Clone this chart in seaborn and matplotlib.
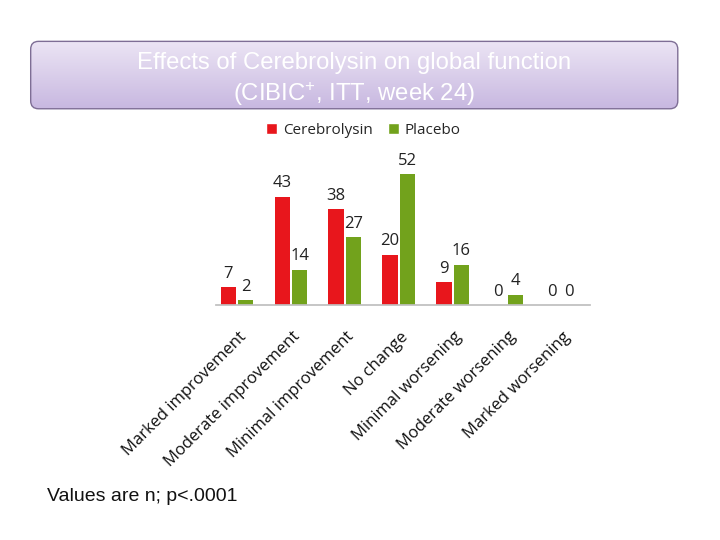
import numpy as np
import pandas as pd
import matplotlib
matplotlib.use("Agg")
import matplotlib.pyplot as plt
import seaborn as sns
from matplotlib.patches import FancyBboxPatch, Patch
from matplotlib.colors import LinearSegmentedColormap
import matplotlib.transforms as mtrans

categories = ["Marked improvement", "Moderate improvement", "Minimal improvement",
              "No change", "Minimal worsening", "Moderate worsening", "Marked worsening"]
cerebrolysin = [7, 43, 38, 20, 9, 0, 0]
placebo = [2, 14, 27, 52, 16, 4, 0]
series = ["Cerebrolysin", "Placebo"]
colors = ["#E8161C", "#72A21C"]

df = pd.DataFrame({
    "category": categories * 2,
    "n": cerebrolysin + placebo,
    "group": [series[0]] * len(categories) + [series[1]] * len(categories),
})

sns.set_theme(style="white")
plt.rcParams['font.family'] = ['Open Sans', 'DejaVu Sans']
plt.rcParams['mathtext.default'] = 'regular'

fig = plt.figure(figsize=(7.2, 5.4), dpi=100)
fig.patch.set_facecolor("white")

# Title box with gradient
bx = fig.add_axes([0.039, 0.796, 0.906, 0.13])
bx.set_xlim(0, 1); bx.set_ylim(0, 1); bx.axis("off")
grad = np.linspace(0, 1, 256).reshape(-1, 1)
cm = LinearSegmentedColormap.from_list("lav", ["#C7B7E0", "#EDE6F5"])
im = bx.imshow(grad, extent=[0, 1, 0, 1], aspect="auto", cmap=cm, origin="lower", zorder=1)
patch = FancyBboxPatch((0.004, 0.02), 0.992, 0.96, boxstyle="round,pad=0,rounding_size=0.012",
                       transform=bx.transAxes, facecolor="none", edgecolor="#7E6E95",
                       linewidth=1.0, zorder=2, mutation_aspect=652/70)
bx.add_patch(patch)
im.set_clip_path(patch)
tfam = ["Liberation Sans", "DejaVu Sans"]
bx.text(0.5, 0.67, "Effects of Cerebrolysin on global function", ha="center", va="center",
        color="white", fontsize=17.2, family=tfam, zorder=3)
bx.text(0.5, 0.23, "(CIBIC$^{+}$, ITT, week 24)", ha="center", va="center",
        color="white", fontsize=17.2, family=tfam, zorder=3)

# Main chart
ax = fig.add_axes([0.30, 0.435, 0.519, 0.28])
sns.barplot(data=df, x="category", y="n", hue="group", palette=colors, ax=ax,
            width=0.64, gap=0.1, saturation=1, legend=False)
for p in ax.patches:
    p.set_edgecolor("none")
for c in ax.containers:
    ax.bar_label(c, labels=[str(int(v)) for v in c.datavalues], padding=4, fontsize=12,
                 color="#222222")
ax.set_xlim(-0.39, 6.54)
ax.set_ylim(0, 60)
ax.set_xlabel(""); ax.set_ylabel("")
ax.set_yticks([])
for s in ["top", "right", "left"]:
    ax.spines[s].set_visible(False)
ax.spines["bottom"].set_color("#BFBFBF")
ax.tick_params(axis="x", length=0, pad=17)
ax.set_xticks(range(len(categories)))
ax.set_xticklabels(categories, rotation=45, ha="right", rotation_mode="anchor", fontsize=12,
                   color="#111111")
offset = mtrans.ScaledTranslation(1/72, 0, fig.dpi_scale_trans)
for lbl in ax.get_xticklabels():
    lbl.set_transform(lbl.get_transform() + offset)

# Legend
handles = [Patch(facecolor=colors[0]), Patch(facecolor=colors[1])]
fig.legend(handles, series, loc="center", bbox_to_anchor=(0.505, 0.759), ncol=2, frameon=False,
           fontsize=11, handlelength=0.7, handleheight=0.7, handletextpad=0.4, columnspacing=1.0)

fig.text(0.065, 0.081, "Values are n; p<.0001", fontsize=14, color="#111111",
         family=tfam, va="center")

fig.savefig("out.png", dpi=100)
